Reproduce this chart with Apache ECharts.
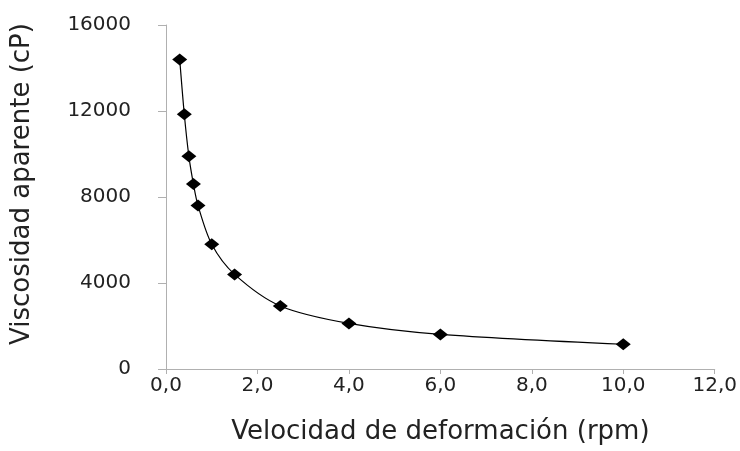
<!DOCTYPE html>
<html>
<head>
<meta charset="utf-8">
<script src="https://cdn.jsdelivr.net/npm/echarts@6/dist/echarts.min.js"></script>
<style>
  html, body { margin: 0; padding: 0; background: #fff; }
  #chart { width: 740px; height: 451px; }
</style>
</head>
<body>
<div id="chart"></div>
<script>
// velocidad (rpm) vs viscosidad aparente (cP)
var rpm = [0.3, 0.4, 0.5, 0.6, 0.7, 1.0, 1.5, 2.5, 4.0, 6.0, 10.0]
var viscosidad = [14400, 11850, 9900, 8600, 7600, 5800, 4400, 2930, 2120, 1610, 1150]

var chart = echarts.init(document.getElementById('chart'))
var txt = '#222'
var axisGray = '#b0b0b0'
var fnt = 'DejaVu Sans'

chart.setOption({
  animation: false,
  grid: {
    left: 166,
    right: 22,
    top: 25,
    bottom: 82
  },
  xAxis: {
    type: 'value',
    min: 0,
    max: 12,
    interval: 2,
    name: 'Velocidad de deformación (rpm)',
    nameLocation: 'middle',
    nameGap: 50,
    nameTextStyle: {
      color: txt,
      fontSize: 26,
      fontFamily: fnt
    },
    axisLine: { show: true, lineStyle: { color: axisGray, width: 1 } },
    axisTick: { show: true, length: 5, lineStyle: { color: axisGray } },
    splitLine: { show: false },
    axisLabel: {
      color: txt,
      fontSize: 20,
      fontFamily: fnt,
      margin: 7,
      formatter: function (v) {
        return v.toFixed(1).replace('.', ',')
      }
    }
  },
  yAxis: {
    type: 'value',
    min: 0,
    max: 16000,
    interval: 4000,
    name: 'Viscosidad aparente (cP)',
    nameLocation: 'middle',
    nameGap: 131,
    nameTextStyle: {
      color: txt,
      fontSize: 26,
      fontFamily: fnt,
      padding: [0, 0, 0, 26] // nudges the title up a bit
    },
    axisLine: { show: true, lineStyle: { color: axisGray, width: 1 } },
    axisTick: { show: true, length: 8, lineStyle: { color: axisGray } },
    splitLine: { show: false },
    axisLabel: {
      color: txt,
      fontSize: 20,
      fontFamily: fnt,
      margin: 35,
      formatter: function (v) { return String(v) }
    }
  },
  series: [{
    type: 'line',
    data: rpm.map(function (x, i) { return [x, viscosidad[i]] }),
    smooth: 0.3,
    symbol: 'diamond',
    symbolSize: [15, 12],
    itemStyle: { color: '#000' },
    lineStyle: { color: '#000', width: 1.2 }
  }]
})
</script>
</body>
</html>
